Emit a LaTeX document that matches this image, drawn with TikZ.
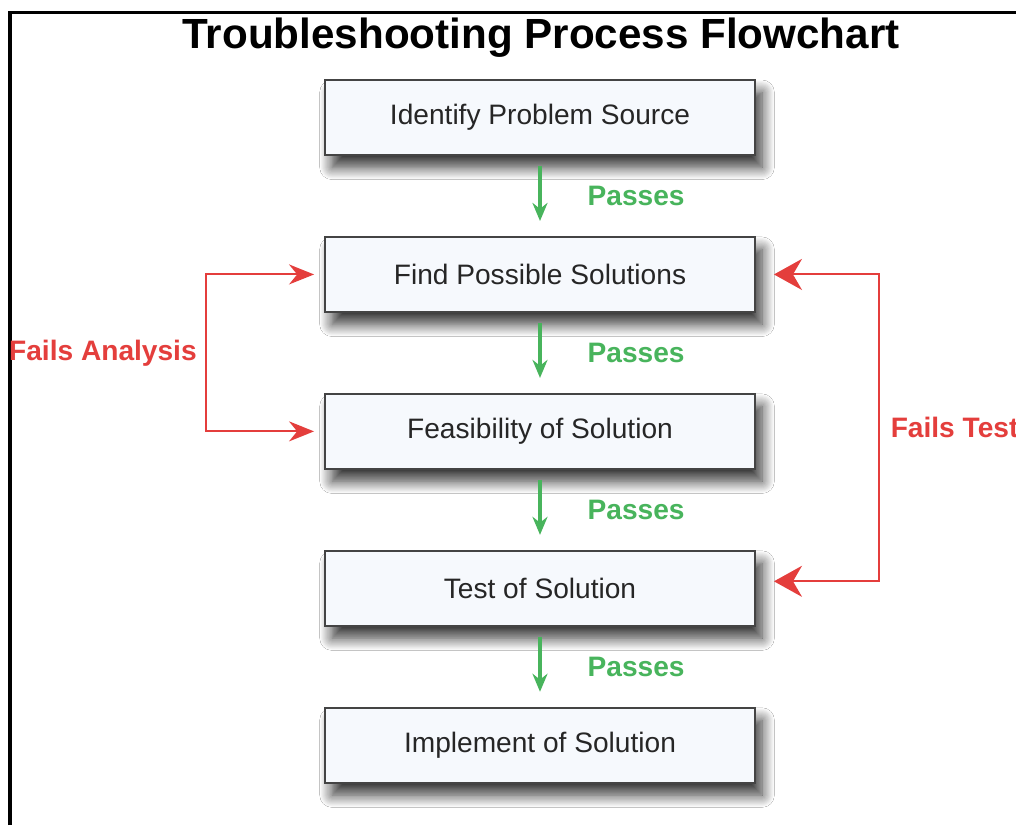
\documentclass[tikz,border=0pt]{standalone}
\usepackage{fontspec}
\setmainfont{Liberation Sans}
\usepackage{tikz}
\usetikzlibrary{positioning, arrows.meta, shadows.blur}
\newcommand{\boxGap}{1.6cm}
\definecolor{passgreen}{RGB}{72,180,92}
\definecolor{failred}{RGB}{228,62,60}
\definecolor{boxfill}{RGB}{246,249,253}
\definecolor{boxline}{RGB}{68,68,68}

\begin{document}
\begin{tikzpicture}[
  stepbox/.style={draw=boxline, line width=1.1pt, fill=boxfill, minimum width=8.6cm, minimum height=1.5cm,
    font=\fontsize{16}{19}\selectfont, text=black!85,
    blur shadow={shadow xshift=4pt, shadow yshift=-7pt, shadow blur radius=7pt, shadow blur steps=12, shadow opacity=80}},
  passarrow/.style={draw=passgreen, line width=2pt, -{Stealth[length=0.36cm, width=0.3cm]}, shorten <=0.2cm, shorten >=0.3cm},
  passlabel/.style={text=passgreen, font=\bfseries\fontsize{16}{19}\selectfont, right=0.8cm},
  failarrow/.style={draw=failred, line width=1.1pt},
  faillabel/.style={text=failred, font=\bfseries\fontsize{16}{19}\selectfont}
]
\useasboundingbox[fill=white] (0,0) rectangle (20.32,-16.5);
\draw[line width=2.2pt] (0.2,-16.5) |- (20.32,-0.25);

\node[font=\bfseries\fontsize{24}{28}\selectfont, anchor=base] (title) at (10.82,-0.96) {Troubleshooting Process Flowchart};

\node[stepbox] (ident) at (10.8,-2.35) {Identify Problem Source};
\node[stepbox, below=\boxGap of ident] (find) {Find Possible Solutions};
\node[stepbox, below=\boxGap of find] (feas) {Feasibility of Solution};
\node[stepbox, below=\boxGap of feas] (test) {Test of Solution};
\node[stepbox, below=\boxGap of test] (impl) {Implement of Solution};

\foreach \a/\b in {ident/find, find/feas, feas/test, test/impl}
  \draw[passarrow] (\a) -- node[passlabel] {Passes} (\b);

\draw[failarrow, {Stealth[length=0.5cm, width=0.4cm]}-{Stealth[length=0.5cm, width=0.4cm]}, shorten <=0.2cm, shorten >=0.2cm]
  (find.west) -- ++(-2.36,0) |- node[pos=0.25, faillabel, left=0.05cm] {Fails Analysis} (feas.west);
\draw[failarrow, {Stealth[length=0.56cm, width=0.62cm, inset=0.18cm]}-{Stealth[length=0.56cm, width=0.62cm, inset=0.18cm]}, shorten <=0.36cm, shorten >=0.36cm]
  (find.east) -- ++(2.46,0) |- node[pos=0.25, faillabel, right=0.1cm] {Fails Test} ([yshift=0.14cm]test.east);
\end{tikzpicture}
\end{document}
